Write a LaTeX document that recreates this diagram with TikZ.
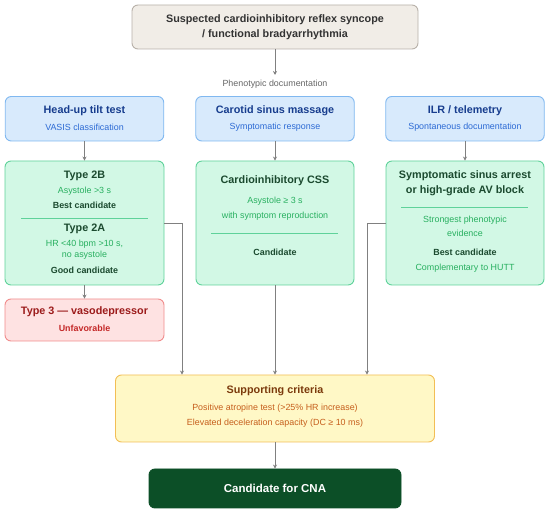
\documentclass[tikz,border=0pt]{standalone}
\usepackage{fontspec}
\setmainfont{Liberation Sans}
\usepackage{xcolor}
\usepackage{tikz}
\usetikzlibrary{arrows.meta}

\definecolor{topfill}{HTML}{F1EDE7}
\definecolor{topdraw}{HTML}{B8B1A9}
\definecolor{bluefill}{HTML}{D8EAFC}
\definecolor{bluedraw}{HTML}{80B8F0}
\definecolor{bluehead}{HTML}{173D8E}
\definecolor{bluetext}{HTML}{2C6AD4}
\definecolor{greenfill}{HTML}{D2F8E5}
\definecolor{greendraw}{HTML}{5FD29A}
\definecolor{greenhead}{HTML}{1B4A2F}
\definecolor{greentext}{HTML}{28B060}
\definecolor{pinkfill}{HTML}{FEE2E2}
\definecolor{pinkdraw}{HTML}{F08C8C}
\definecolor{pinkhead}{HTML}{9C1B1B}
\definecolor{pinktext}{HTML}{C42828}
\definecolor{yellowfill}{HTML}{FFF8C6}
\definecolor{yellowdraw}{HTML}{F2BE55}
\definecolor{yellowhead}{HTML}{7B3A0C}
\definecolor{yellowtext}{HTML}{C65F1C}
\definecolor{cnafill}{HTML}{0C4F27}
\definecolor{arrowgray}{HTML}{808080}

\tikzset{
  box/.style={draw, rounded corners=6pt, line width=0.9pt, inner sep=0pt},
  head/.style={font=\fontsize{10.8}{15}\selectfont\bfseries, align=center, inner sep=0pt},
  small/.style={font=\fontsize{8.9}{12}\selectfont, align=center, inner sep=0pt},
  smallbf/.style={font=\fontsize{8.9}{12}\selectfont\bfseries, align=center, inner sep=0pt},
  arr/.style={-{Stealth[length=4pt,width=4pt]}, color=arrowgray, line width=0.9pt},
}

\begin{document}
\begin{tikzpicture}[x=1pt,y=-1pt]
\useasboundingbox (0,0) rectangle (550,513);

% top box
\node[box, draw=topdraw, fill=topfill, minimum width=286pt, minimum height=44pt] (susp) at (275,27) {};
\node[head, color=black!80] (suspT) at (275,27.5) {Suspected cardioinhibitory reflex syncope\\ / functional bradyarrhythmia};
\coordinate (pheno) at (275,75);
\node[small, color=black!60] (phenoL) at (275,84) {Phenotypic documentation};

% phenotyping methods
\node[box, draw=bluedraw, fill=bluefill, minimum width=158.5pt, minimum height=44.5pt] (hutt) at (84.5,118.75) {};
\node[head, color=bluehead] (huttT) at (84.5,110.5) {Head-up tilt test};
\node[small, color=bluetext] (huttS) at (84.5,127) {VASIS classification};
\node[box, draw=bluedraw, fill=bluefill, minimum width=158.5pt, minimum height=44.5pt] (csm) at (275,118.75) {};
\node[head, color=bluehead] (csmT) at (275,110.5) {Carotid sinus massage};
\node[small, color=bluetext] (csmS) at (275,127) {Symptomatic response};
\node[box, draw=bluedraw, fill=bluefill, minimum width=158.5pt, minimum height=44.5pt] (ilr) at (465,118.75) {};
\node[head, color=bluehead] (ilrT) at (465,110.5) {ILR / telemetry};
\node[small, color=bluetext] (ilrS) at (465,127) {Spontaneous documentation};

% findings
\node[box, draw=greendraw, fill=greenfill, minimum width=159pt, minimum height=124pt] (type2) at (84.5,223) {};
\node[head, color=greenhead] (t2b) at (84.5,176) {Type 2B};
\node[small, color=greentext] (t2bA) at (84.5,191.5) {Asystole >3 s};
\node[smallbf, color=greenhead] (t2bB) at (84.5,205) {Best candidate};
\draw[greendraw, line width=0.8pt] (21,218) -- (148,218);
\node[head, color=greenhead] (t2a) at (84.5,228.5) {Type 2A};
\node[small, color=greentext] (t2aA) at (84.5,244) {HR <40 bpm >10 s,};
\node[small, color=greentext] (t2aB) at (84.5,255.5) {no asystole};
\node[smallbf, color=greenhead] (t2aC) at (84.5,270.5) {Good candidate};

\node[box, draw=greendraw, fill=greenfill, minimum width=158pt, minimum height=124pt] (css) at (275,223) {};
\node[head, color=greenhead] (cssT) at (275,181) {Cardioinhibitory CSS};
\node[small, color=greentext] (cssA) at (275,201.5) {Asystole ≥ 3 s};
\node[small, color=greentext] (cssB) at (275,216.5) {with symptom reproduction};
\draw[greendraw, line width=0.8pt] (211,233) -- (338,233);
\node[smallbf, color=greenhead] (cssC) at (275,252) {Candidate};

\node[box, draw=greendraw, fill=greenfill, minimum width=158pt, minimum height=124pt] (arrest) at (465,223) {};
\node[head, color=greenhead] (arrestT) at (465,183.5) {Symptomatic sinus arrest\\ or high-grade AV block};
\draw[greendraw, line width=0.8pt] (401,207) -- (528,207);
\node[small, color=greentext] (arrestA) at (465,220) {Strongest phenotypic};
\node[small, color=greentext] (arrestB) at (465,233.5) {evidence};
\node[smallbf, color=greenhead] (arrestC) at (465,252) {Best candidate};
\node[small, color=greentext] (arrestD) at (465,268.5) {Complementary to HUTT};

% vasodepressor
\node[box, draw=pinkdraw, fill=pinkfill, minimum width=159pt, minimum height=42pt] (type3) at (84.5,320) {};
\node[head, color=pinkhead] (type3T) at (84.5,312) {Type 3 — vasodepressor};
\node[smallbf, color=pinktext] (type3S) at (84.5,328) {Unfavorable};

% supporting criteria
\node[box, draw=yellowdraw, fill=yellowfill, minimum width=319pt, minimum height=67pt] (supp) at (275,408.5) {};
\node[head, color=yellowhead] (suppT) at (275,391) {Supporting criteria};
\node[small, color=yellowtext] (suppA) at (275,408.5) {Positive atropine test (>25\% HR increase)};
\node[small, color=yellowtext] (suppB) at (275,423.5) {Elevated deceleration capacity (DC ≥ 10 ms)};

% result
\node[box, draw=cnafill, fill=cnafill, minimum width=252pt, minimum height=39pt] (cna) at (275,488.5) {};
\node[head, font=\fontsize{11.5}{14}\selectfont\bfseries, color=white] (cnaT) at (275,488.5) {Candidate for CNA};

% arrows
\draw[arr] (susp.south) -- (pheno);
\draw[arr] (hutt.south) -- (type2.north);
\draw[arr] (csm.south) -- (css.north);
\draw[arr] (ilr.south) -- (arrest.north);
\draw[arr] (type2.south) -- (type3.north);
\draw[arr] (type2.east) -| ([xshift=-93pt]supp.north);
\draw[arr] (css.south) -- (supp.north);
\draw[arr] (arrest.west) -| ([xshift=92pt]supp.north);
\draw[arr] (supp.south) -- (cna.north);
\end{tikzpicture}
\end{document}
